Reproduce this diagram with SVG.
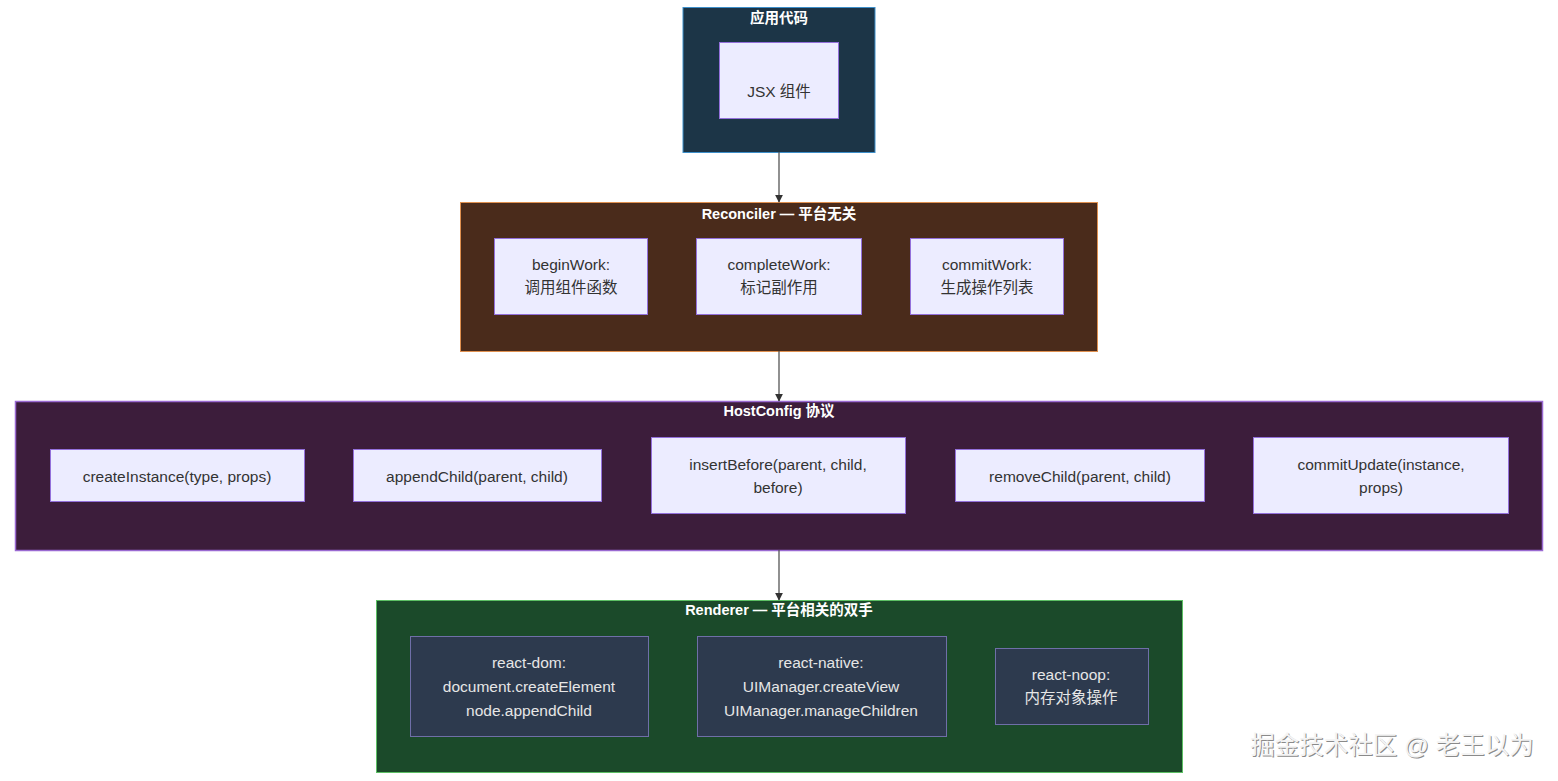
<svg xmlns="http://www.w3.org/2000/svg" width="1558" height="781" viewBox="0 0 1558 781">
<defs>
<marker id="arr" viewBox="0 0 10 10" refX="9" refY="5" markerWidth="8" markerHeight="8" markerUnits="userSpaceOnUse" orient="auto"><path d="M0,0 L10,5 L0,10 z" fill="#333"/></marker>
<style>
text{font-family:"Liberation Sans","Noto Sans CJK SC",sans-serif;text-anchor:middle;dominant-baseline:central}
.ct{fill:#fff;font-size:14.5px;font-weight:bold}
.n{fill:#ECECFF;stroke:#9370DB;stroke-width:1}
.nt{fill:#333;font-size:15.5px}
.r{fill:#2d3a4e;stroke:#6f6fa8;stroke-width:1}
.rt{fill:#e6e6e6;font-size:15.5px}
.e{stroke:#555;stroke-width:1.3;fill:none;marker-end:url(#arr)}
</style>
</defs>
<rect width="1558" height="781" fill="#fff"/>
<g id="app">
<rect x="683" y="7.5" width="192" height="145" fill="#1c3547" stroke="#3d8fca" stroke-width="1"/>
<text class="ct" x="779" y="18">应用代码</text>
</g>
<g id="jsx">
<rect class="n" x="719.5" y="42.5" width="119" height="76"/>
<text class="nt" x="779" y="91">JSX 组件</text>
</g>
<g id="reconciler">
<rect x="460.5" y="202.5" width="637" height="149" fill="#4a2b1b" stroke="#e0904f" stroke-width="1"/>
<text class="ct" x="779" y="214">Reconciler — 平台无关</text>
</g>
<g id="beginWork">
<rect class="n" x="494.5" y="238.5" width="153" height="76"/>
<text class="nt" x="571" y="264">beginWork:</text>
<text class="nt" x="571" y="287">调用组件函数</text>
</g>
<g id="completeWork">
<rect class="n" x="696.5" y="238.5" width="165" height="76"/>
<text class="nt" x="779" y="264">completeWork:</text>
<text class="nt" x="779" y="287">标记副作用</text>
</g>
<g id="commitWork">
<rect class="n" x="910.5" y="238.5" width="153" height="76"/>
<text class="nt" x="987" y="264">commitWork:</text>
<text class="nt" x="987" y="287">生成操作列表</text>
</g>
<g id="hostconfig">
<rect x="15.5" y="401.5" width="1527" height="149" fill="#3c1d3b" stroke="#9a6ad2" stroke-width="1.5"/>
<text class="ct" x="779" y="411">HostConfig 协议</text>
</g>
<g id="createInstance">
<rect class="n" x="50.5" y="449.5" width="254" height="52"/>
<text class="nt" x="177" y="476">createInstance(type, props)</text>
</g>
<g id="appendChild">
<rect class="n" x="353.5" y="449.5" width="248" height="52"/>
<text class="nt" x="477" y="476">appendChild(parent, child)</text>
</g>
<g id="insertBefore">
<rect class="n" x="651.5" y="437.5" width="254" height="76"/>
<text class="nt" x="778" y="464">insertBefore(parent, child,</text>
<text class="nt" x="778" y="487">before)</text>
</g>
<g id="removeChild">
<rect class="n" x="955.5" y="449.5" width="249" height="52"/>
<text class="nt" x="1080" y="476">removeChild(parent, child)</text>
</g>
<g id="commitUpdate">
<rect class="n" x="1253.5" y="437.5" width="255" height="76"/>
<text class="nt" x="1381" y="464">commitUpdate(instance,</text>
<text class="nt" x="1381" y="487">props)</text>
</g>
<g id="renderer">
<rect x="376.5" y="600.5" width="806" height="172" fill="#1b4a2a" stroke="#5cc064" stroke-width="1"/>
<text class="ct" x="779" y="610">Renderer — 平台相关的双手</text>
</g>
<g id="reactDom">
<rect class="r" x="410.5" y="636.5" width="238" height="100"/>
<text class="rt" x="529" y="662">react-dom:</text>
<text class="rt" x="529" y="686">document.createElement</text>
<text class="rt" x="529" y="710">node.appendChild</text>
</g>
<g id="reactNative">
<rect class="r" x="697.5" y="636.5" width="249" height="100"/>
<text class="rt" x="821" y="662">react-native:</text>
<text class="rt" x="821" y="686">UIManager.createView</text>
<text class="rt" x="821" y="710">UIManager.manageChildren</text>
</g>
<g id="reactNoop">
<rect class="r" x="995.5" y="648.5" width="153" height="76"/>
<text class="rt" x="1071" y="674">react-noop:</text>
<text class="rt" x="1071" y="697">内存对象操作</text>
</g>
<g id="edges">
<line class="e" x1="779" y1="152" x2="779" y2="202"/>
<line class="e" x1="779" y1="351" x2="779" y2="401"/>
<line class="e" x1="779" y1="550" x2="779" y2="600"/>
</g>
<g id="watermark">
<text x="1392" y="745" style="font-size:24.5px;fill:#8a8a8a" transform="translate(1,1)">掘金技术社区 @ 老王以为</text>
<text x="1392" y="745" style="font-size:24.5px;fill:#f4f4f4">掘金技术社区 @ 老王以为</text>
</g>
</svg>
